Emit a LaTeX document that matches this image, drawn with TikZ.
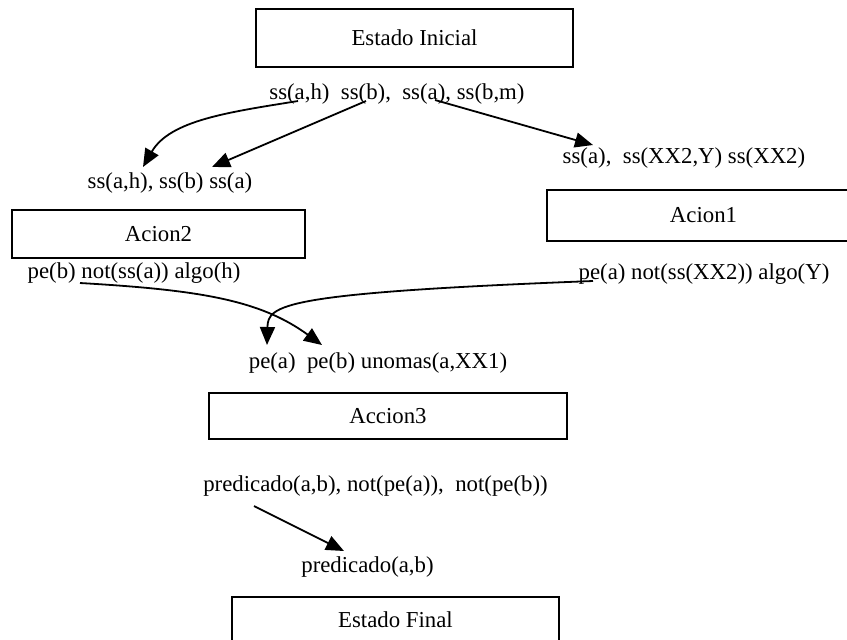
\documentclass[tikz,border=0pt]{standalone}
\usepackage{fontspec}
\setmainfont{Liberation Serif}
\usetikzlibrary{arrows.meta}

\begin{document}
\begin{tikzpicture}
	    [x=0.5pt, y=-0.5pt,
	    state/.style={draw, line width=1pt, inner sep=0pt},
	    pred/.style={inner sep=0pt},
	    >={Triangle[length=9pt,width=7.5pt]},
	    font=\fontsize{11.4}{13}\selectfont]
	     \useasboundingbox (0,0) rectangle (847,639);
	     \clip (0,0) rectangle (847,639);
	     % boxes
	     \node[state, minimum width=158.5pt, minimum height=29pt] (EI) at (414.5, 38) {Estado Inicial};
	     \node[state, minimum width=146.5pt, minimum height=24pt] (A2) at (158.5, 234) {Acion2};
	     \node[state, minimum width=156.5pt, minimum height=25.5pt] (A1) at (703.5, 215.5) {Acion1};
	     \node[state, minimum width=179pt, minimum height=23pt] (A3) at (388, 416) {Accion3};
	     \node[state, minimum width=163.5pt, minimum height=22.5pt] (EF) at (395.5, 619.5) {Estado Final};
	     % predicates
	     \node[pred] (P0) at (397, 94) {ss(a,h)\ \ ss(b),\ \ ss(a), ss(b,m)};
	     \node[pred] (P2) at (170, 183) {ss(a,h), ss(b) ss(a)};
	     \node[pred] (P1) at (684, 158) {ss(a),\ \ ss(XX2,Y) ss(XX2)};
	     \node[pred] (Q2) at (134, 273) {pe(b) not(ss(a)) algo(h)};
	     \node[pred] (Q1) at (704, 274) {pe(a) not(ss(XX2)) algo(Y)};
	     \node[pred] (P3) at (378, 363) {pe(a)\ \ pe(b) unomas(a,XX1)};
	     \node[pred] (Q3) at (375.5, 486) {predicado(a,b), not(pe(a)),\ \ not(pe(b))};
	     \node[pred] (PF) at (367.5, 567) {predicado(a,b)};
	     % arrow ends
	     \coordinate (s1) at (298, 101);
	     \coordinate (s2) at (366, 101);
	     \coordinate (s3) at (435, 100);
	     \coordinate (s4) at (80, 283);
	     \coordinate (s5) at (593, 281);
	     \coordinate (s6) at (254, 506);
	     \coordinate (t1) at (143, 167);
	     \coordinate (t2) at (212, 167);
	     \coordinate (t3) at (593, 145);
	     \coordinate (t4) at (322, 345);
	     \coordinate (t5) at (267, 345);
	     \coordinate (t6) at (344, 551);
	     \draw[->, line width=0.9pt] (s1) .. controls (230, 112) and (170, 120) .. (t1);
	     \draw[->, line width=0.9pt] (s2) -- (t2);
	     \draw[->, line width=0.9pt] (s3) -- (t3);
	     \draw[->, line width=0.9pt] (s4) .. controls (200, 290) and (260, 300) .. (t4);
	     \draw[->, line width=0.9pt] (s5) .. controls (280, 293) and (268, 305) .. (t5);
	     \draw[->, line width=0.9pt] (s6) -- (t6);
	\end{tikzpicture}
\end{document}
